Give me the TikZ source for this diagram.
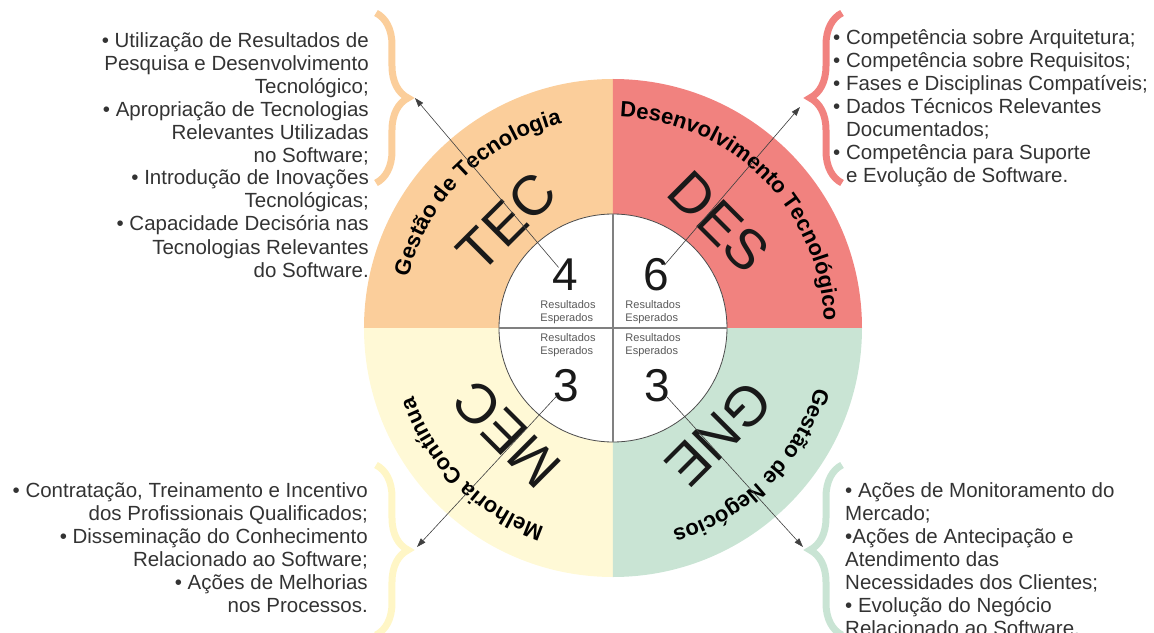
\documentclass[tikz,border=0pt]{standalone}
\usepackage{fontspec}
\setmainfont{Liberation Sans}
\usetikzlibrary{arrows.meta, decorations.text, decorations.pathreplacing}

\definecolor{tecfill}{HTML}{FBCE9B}
\definecolor{desfill}{HTML}{F1827F}
\definecolor{mecfill}{HTML}{FFF9D6}
\definecolor{gnefill}{HTML}{C9E4D4}
\definecolor{mecbrace}{HTML}{FFF6C6}
\definecolor{listgray}{HTML}{333333}

\newcommand{\arcfont}{\fontsize{22}{26}\selectfont\bfseries}

\tikzstyle{itemlist} = [font=\fontsize{20.5}{23}\selectfont, text=listgray, inner sep=0pt]
\tikzstyle{bigcode} = [font=\fontsize{56}{60}\selectfont, text=black!90, inner sep=0pt]
\tikzstyle{countnum} = [font=\fontsize{46}{48}\selectfont, text=black!90, inner sep=0pt]
\tikzstyle{resultlabel} = [font=\fontsize{11}{12.5}\selectfont, text=black!65, align=left, inner sep=0pt]
\tikzstyle{arrow} = [-{Triangle[length=9pt, width=6pt]}, line width=0.6pt, black!75]
\tikzstyle{bracebar} = [decorate, decoration={brace, amplitude=32pt}, line width=7pt]
\tikzset{arclabel/.style={decorate, decoration={text along path, text align=center, text={|\arcfont|#1}}}}

\begin{document}
\begin{tikzpicture}[x=1pt, y=1pt]

  \useasboundingbox (-613,-304) rectangle (541,328);

  % Quadrants
  \fill[tecfill] (0,0) -- (90:249pt) arc[start angle=90, end angle=180, radius=249pt] -- cycle;
  \fill[desfill] (0,0) -- (0:249pt) arc[start angle=0, end angle=90, radius=249pt] -- cycle;
  \fill[mecfill] (0,0) -- (180:249pt) arc[start angle=180, end angle=270, radius=249pt] -- cycle;
  \fill[gnefill] (0,0) -- (270:249pt) arc[start angle=270, end angle=360, radius=249pt] -- cycle;

  % Inner circle
  \draw[black!70, fill=white, line width=0.8pt] (0,0) circle[radius=114pt];
  \draw[black!50, line width=1.2pt] (-114,0) -- (114,0);
  \draw[black!50, line width=1.2pt] (0,-114) -- (0,114);

  % Counts
  \node[countnum] (tecnum) at (-48,53) {4};
  \node[countnum] (desnum) at (43,53) {6};
  \node[countnum] (mecnum) at (-47,-58) {3};
  \node[countnum] (gnenum) at (44,-58) {3};

  \node[resultlabel] (tecres) at (-45,16) {Resultados\\Esperados};
  \node[resultlabel] (desres) at (40,16) {Resultados\\Esperados};
  \node[resultlabel] (mecres) at (-45,-17) {Resultados\\Esperados};
  \node[resultlabel] (gneres) at (40,-17) {Resultados\\Esperados};

  % Area codes
  \node[bigcode, rotate=45] (tec) at (135:150pt) {TEC};
  \node[bigcode, rotate=-45] (des) at (45:150pt) {DES};
  \node[bigcode, rotate=135] (mec) at (225:150pt) {MEC};
  \node[bigcode, rotate=-135] (gne) at (-45:150pt) {GNE};

  % Ring labels
  \path[arclabel={Gestão de Tecnologia}] (220:211pt) arc[start angle=220, end angle=50, radius=211pt];
  \path[arclabel={Desenvolvimento Tecnológico}] (130:211pt) arc[start angle=130, end angle=-40, radius=211pt];
  \path[arclabel={Melhoria Contínua}] (310:211pt) arc[start angle=310, end angle=140, radius=211pt];
  \path[arclabel={Gestão de Negócios}] (40:211pt) arc[start angle=40, end angle=-130, radius=211pt];

  % Braces
  \draw[bracebar, tecfill] (-237,315) -- (-237,145);
  \draw[bracebar, desfill] (229,145) -- (229,315);
  \draw[bracebar, mecbrace] (-237,-137) -- (-237,-307);
  \draw[bracebar, gnefill] (229,-307) -- (229,-137);

  % Arrow tips
  \coordinate (tectip) at (-198,230);
  \coordinate (destip) at (187,221);
  \coordinate (mectip) at (-196,-219);
  \coordinate (gnetip) at (190,-219);

  \draw[arrow, shorten <=10pt] (tecnum.center) -- (tectip);
  \draw[arrow, shorten <=13pt] (desnum.center) -- (destip);
  \draw[arrow, shorten <=14pt] (mecnum.center) -- (mectip);
  \draw[arrow, shorten <=15pt] (gnenum.center) -- (gnetip);

  % Item lists (anchored at the last line)
  \node[itemlist, anchor=base east, align=right] (teclist) at (-244,51) {%
    • Utilização de Resultados de\\
    Pesquisa e Desenvolvimento\\
    Tecnológico;\\
    • Apropriação de Tecnologias\\
    Relevantes Utilizadas\\
    no Software;\\
    • Introdução de Inovações\\
    Tecnológicas;\\
    • Capacidade Decisória nas\\
    Tecnologias Relevantes\\
    do Software.};
  \node[itemlist, anchor=base west, align=left] (deslist) at (220,145) {%
    • Competência sobre Arquitetura;\\
    • Competência sobre Requisitos;\\
    • Fases e Disciplinas Compatíveis;\\
    • Dados Técnicos Relevantes\\
    \phantom{• }Documentados;\\
    • Competência para Suporte\\
    \phantom{• }e Evolução de Software.};
  \node[itemlist, anchor=base east, align=right] (meclist) at (-245,-284) {%
    • Contratação, Treinamento e Incentivo\\
    dos Profissionais Qualificados;\\
    • Disseminação do Conhecimento\\
    Relacionado ao Software;\\
    • Ações de Melhorias\\
    nos Processos.};
  \node[itemlist, anchor=base west, align=left] (gnelist) at (232,-307) {%
    • Ações de Monitoramento do\\
    Mercado;\\
    •Ações de Antecipação e\\
    Atendimento das\\
    Necessidades dos Clientes;\\
    • Evolução do Negócio\\
    Relacionado ao Software.};

\end{tikzpicture}
\end{document}
